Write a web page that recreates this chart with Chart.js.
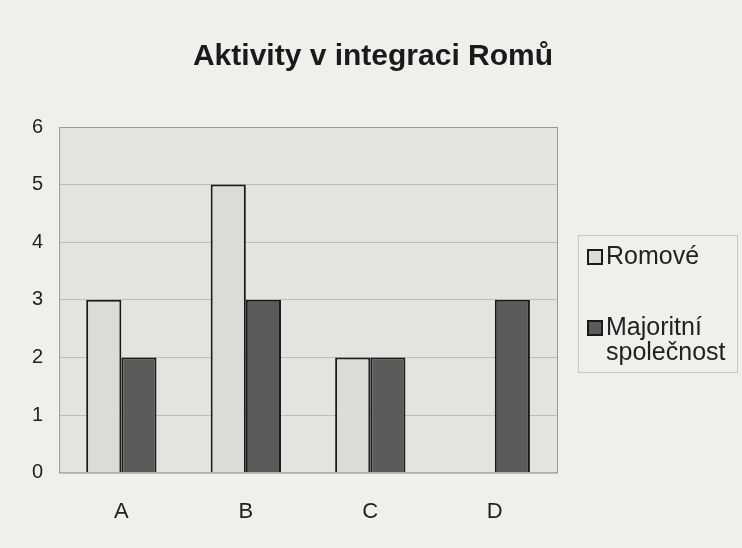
<!DOCTYPE html>
<html>
<head>
<meta charset="utf-8">
<script src="https://cdn.jsdelivr.net/npm/chart.js@4"></script>
<style>
  html, body { margin: 0; padding: 0; background: #efefeb; }
  #wrap { width: 742px; height: 548px; }
</style>
</head>
<body>
<div id="wrap"><canvas id="graf"></canvas></div>
<script>
// kategorie a hodnoty
const categories = ['A', 'B', 'C', 'D'];
const romove = [3, 5, 2, null];
const majoritni = [2, 3, 2, 3];
const seriesNames = ['Romové', ['Majoritní', 'společnost']];
const chartTitle = 'Aktivity v integraci Romů';
const yTicks = [0, 1, 2, 3, 4, 5, 6];

const FONT = '"Liberation Sans", Arial, sans-serif';

// sede pozadi plochy grafu + nadpis pres celou sirku
const plotBg = {
    id: 'plotBg',
    beforeDraw(chart) {
        const { ctx, chartArea: a } = chart;
        ctx.save();
        ctx.fillStyle = '#e3e3df';
        ctx.fillRect(a.left, a.top, a.right - a.left, a.bottom - a.top);
        ctx.fillStyle = '#1a1a1a';
        ctx.font = 'bold 30px ' + FONT;
        ctx.textAlign = 'center';
        ctx.textBaseline = 'middle';
        ctx.fillText(chartTitle, 373, 57);
        ctx.restore();
    },
    afterDatasetsDraw(chart) {
        const { ctx, chartArea: a } = chart;
        ctx.save();
        ctx.strokeStyle = '#9a9a98';
        ctx.lineWidth = 1;
        ctx.strokeRect(a.left + 0.5, a.top + 0.5, a.right - a.left, a.bottom - a.top);
        ctx.restore();
    }
};

// legenda vpravo v rameckem
const boxLegend = {
    id: 'boxLegend',
    afterDraw(chart) {
        const { ctx } = chart;
        const x = 578, y = 235, w = 159, h = 137;
        ctx.save();
        ctx.strokeStyle = '#c8c8c4';
        ctx.lineWidth = 1;
        ctx.strokeRect(x + 0.5, y + 0.5, w, h);
        ctx.font = '25px ' + FONT;
        ctx.textBaseline = 'middle';
        const rows = [y + 22, y + 93];
        chart.data.datasets.forEach((ds, i) => {
            const ry = rows[i];
            ctx.fillStyle = ds.backgroundColor;
            ctx.fillRect(x + 10, ry - 7, 14, 14);
            ctx.strokeStyle = '#1a1a1a';
            ctx.lineWidth = 2;
            ctx.strokeRect(x + 10, ry - 7, 14, 14);
            ctx.fillStyle = '#222';
            const lines = Array.isArray(seriesNames[i]) ? seriesNames[i] : [seriesNames[i]];
            lines.forEach((t, j) => ctx.fillText(t, x + 28, ry + j * 25));
        });
        ctx.restore();
    }
};

const ctx = document.getElementById('graf').getContext('2d');
new Chart(ctx, {
    type: 'bar',
    data: {
        labels: categories,
        datasets: [{
            label: 'Romové',
            data: romove,
            backgroundColor: '#dbdbd7',
            borderColor: '#1a1a1a',
            borderWidth: 2
        }, {
            label: 'Majoritní společnost',
            data: majoritni,
            backgroundColor: '#5b5b59',
            borderColor: '#1a1a1a',
            borderWidth: 2
        }]
    },
    options: {
        responsive: true,
        maintainAspectRatio: false,
        animation: false,
        layout: { padding: { left: 16, right: 185, top: 127, bottom: 5 } },
        plugins: {
            legend: { display: false },
            tooltip: { enabled: false },
            title: { display: false }
        },
        datasets: {
            bar: { categoryPercentage: 0.565, barPercentage: 1.0 }
        },
        scales: {
            x: {
                grid: { display: false },
                border: { display: false },
                ticks: {
                    color: '#222',
                    padding: 18,
                    font: { family: FONT, size: 22 }
                }
            },
            y: {
                min: 0,
                max: 6,
                afterBuildTicks: axis => { axis.ticks = yTicks.map(v => ({ value: v })); },
                grid: { color: '#bdbdb9', drawTicks: false },
                border: { display: false },
                ticks: {
                    color: '#222',
                    padding: 16,
                    font: { family: FONT, size: 20 }
                }
            }
        }
    },
    plugins: [plotBg, boxLegend]
});
</script>
</body>
</html>
